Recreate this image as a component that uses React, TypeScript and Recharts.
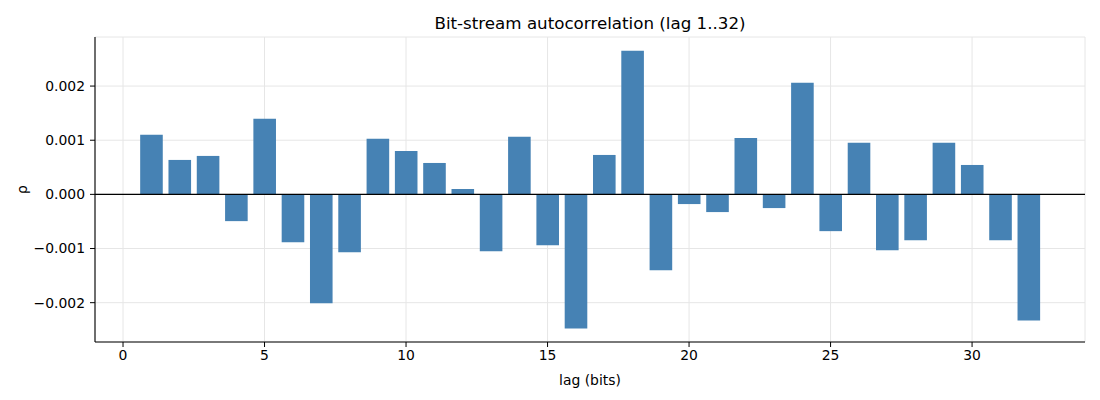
import {
  ComposedChart,
  Bar,
  XAxis,
  YAxis,
  CartesianGrid,
  ReferenceLine,
  Label,
} from "recharts";

// lag 1..32
const lags = [
  1, 2, 3, 4, 5, 6, 7, 8, 9, 10, 11, 12, 13, 14, 15, 16,
  17, 18, 19, 20, 21, 22, 23, 24, 25, 26, 27, 28, 29, 30, 31, 32,
];

const rho = [
  0.0011, 0.000636, 0.00071, -0.000494, 0.001395, -0.000883, -0.002012, -0.001068,
  0.001025, 0.000802, 0.00058, 0.000099, -0.001049, 0.001062, -0.000938, -0.002475,
  0.000728, 0.002654, -0.001401, -0.000179, -0.000327, 0.001043, -0.000253, 0.002062,
  -0.000679, 0.000951, -0.001031, -0.000846, 0.000951, 0.000543, -0.000846, -0.002327,
];

const xTicks = [0, 5, 10, 15, 20, 25, 30];
const yTicks = [-0.002, -0.001, 0, 0.001, 0.002];

const data = lags.map((lag, i) => ({ lag, rho: rho[i] }));

const font = "DejaVu Sans, sans-serif";

const fmtY = (v: number) =>
  (v < 0 ? "\u2212" : "") + Math.abs(v).toFixed(3);

const App = () => {
  return (
    <div
      style={{
        position: "absolute",
        left: 0,
        top: 0,
        width: 1100,
        height: 400,
        background: "#fff",
        fontFamily: font,
      }}
    >
      <div
        style={{
          position: "absolute",
          left: 95,
          width: 990,
          top: 12,
          textAlign: "center",
          fontSize: 16.7,
          color: "#000",
          lineHeight: "22px",
        }}
      >
        Bit-stream autocorrelation (lag 1..32)
      </div>
      <ComposedChart
        width={1100}
        height={400}
        data={data}
        margin={{ top: 37, right: 15, bottom: 0, left: 0 }}
      >
        <CartesianGrid stroke="#e6e6e6" strokeWidth={1} />
        <XAxis
          dataKey="lag"
          type="number"
          domain={[-0.99, 33.99]}
          ticks={xTicks}
          allowDataOverflow
          height={58}
          tickSize={5}
          tickMargin={3}
          stroke="#000"
          tick={{ fill: "#000", fontSize: 13.9, fontFamily: font }}
          axisLine={{ stroke: "#000", strokeWidth: 1.1 }}
        >
          <Label
            value="lag (bits)"
            position="insideBottom"
            offset={15}
            style={{ fill: "#000", fontSize: 13.9, fontFamily: font }}
          />
        </XAxis>
        <YAxis
          type="number"
          domain={[-0.002726, 0.002906]}
          ticks={yTicks}
          allowDataOverflow
          width={95}
          tickSize={5}
          tickMargin={5}
          tickFormatter={fmtY}
          stroke="#000"
          tick={{ fill: "#000", fontSize: 13.9, fontFamily: font }}
          axisLine={{ stroke: "#000", strokeWidth: 1.1 }}
        >
          <Label
            content={({ viewBox }: any) => {
              const cy = viewBox.y + viewBox.height / 2;
              return (
                <text
                  x={22}
                  y={cy}
                  transform={`rotate(-90, 22, ${cy})`}
                  textAnchor="middle"
                  dominantBaseline="central"
                  style={{ fill: "#000", fontSize: 13.9, fontFamily: font }}
                >
                  ρ
                </text>
              );
            }}
          />
        </YAxis>
        <Bar
          dataKey="rho"
          fill="#4682b4"
          barSize={22.6}
          isAnimationActive={false}
        />
        <ReferenceLine y={0} stroke="#000" strokeWidth={1.1} />
      </ComposedChart>
    </div>
  );
};

export default App;
